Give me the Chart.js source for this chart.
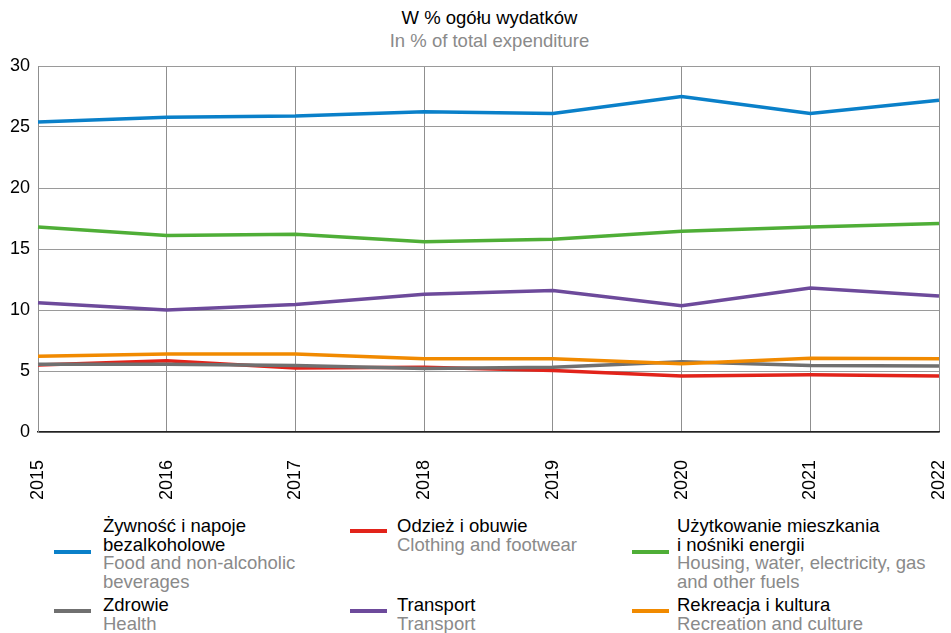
<!DOCTYPE html>
<html lang="pl">
<head>
    <meta charset="UTF-8">
    <title>W % ogółu wydatków</title>
    <style>
        body {
            margin: 0;
            font-family: "Liberation Sans", Arial, sans-serif;
            background: #fff;
        }
        .wrap {
            position: relative;
            width: 951px;
            height: 633px;
        }
        .title {
            position: absolute;
            left: 0;
            width: 979px;
            text-align: center;
            font-size: 18.5px;
        }
        #chartBox {
            position: absolute;
            left: 0;
            top: 0;
            width: 951px;
            height: 500px;
        }
        .sw {
            position: absolute;
            width: 37px;
            height: 4px;
        }
        .lt {
            position: absolute;
            font-size: 18.5px;
            line-height: 18.5px;
        }
        .lt .en {
            color: #8a8a8a;
        }
    </style>
</head>
<body>
<div class="wrap">
    <div class="title" style="top:7px;color:#000">W % ogółu wydatków</div>
    <div class="title" style="top:30px;color:#8a8a8a">In % of total expenditure</div>
    <div id="chartBox"><canvas id="chart"></canvas></div>
    <div id="legend"></div>
</div>

<script src="https://cdn.jsdelivr.net/npm/chart.js"></script>
<script>
    const years = ['2015', '2016', '2017', '2018', '2019', '2020', '2021', '2022'];

    const food      = [25.4, 25.8, 25.9, 26.25, 26.1, 27.5, 26.1, 27.2];
    const clothing  = [5.5, 5.85, 5.25, 5.3, 5.05, 4.6, 4.7, 4.6];
    const housing   = [16.8, 16.1, 16.2, 15.6, 15.8, 16.45, 16.8, 17.1];
    const health    = [5.55, 5.55, 5.45, 5.2, 5.3, 5.75, 5.45, 5.4];
    const transport = [10.6, 10.0, 10.45, 11.3, 11.6, 10.35, 11.8, 11.15];
    const culture   = [6.2, 6.4, 6.4, 6.0, 6.0, 5.6, 6.05, 6.0];

    const namesPl = ['Żywność i napoje\nbezalkoholowe', 'Odzież i obuwie', 'Użytkowanie mieszkania\ni nośniki energii',
                     'Zdrowie', 'Transport', 'Rekreacja i kultura'];
    const namesEn = ['Food and non-alcoholic\nbeverages', 'Clothing and footwear', 'Housing, water, electricity, gas\nand other fuels',
                     'Health', 'Transport', 'Recreation and culture'];

    const colors = ['#0a80c9', '#e2231a', '#4fae37', '#707070', '#6d4a9b', '#f18a00'];
    const drawOrder = [5, 4, 3, 2, 1, 0]; // lower = on top

    const series = [food, clothing, housing, health, transport, culture];

    // legend placement: [swatch x, swatch y, text x, text y]
    const legendPos = [
        [54, 552, 103, 517],
        [350, 531, 397, 517],
        [632, 552, 677, 517],
        [54, 611, 103, 596],
        [350, 611, 397, 596],
        [632, 611, 677, 596]
    ];

    const legend = document.getElementById('legend');
    namesPl.forEach((pl, i) => {
        const p = legendPos[i];
        const sw = document.createElement('div');
        sw.className = 'sw';
        sw.style.left = p[0] + 'px';
        sw.style.top = (p[1] - 2) + 'px';
        sw.style.background = colors[i];
        legend.appendChild(sw);

        const t = document.createElement('div');
        t.className = 'lt';
        t.style.left = p[2] + 'px';
        t.style.top = p[3] + 'px';
        t.innerHTML = pl.replace('\n', '<br>') + '<br><span class="en">' + namesEn[i].replace('\n', '<br>') + '</span>';
        legend.appendChild(t);
    });

    const ctx = document.getElementById('chart').getContext('2d');
    new Chart(ctx, {
        type: 'line',
        data: {
            labels: years,
            datasets: series.map((d, i) => ({
                label: namesPl[i].replace('\n', ' '),
                data: d,
                borderColor: colors[i],
                backgroundColor: colors[i],
                borderWidth: 3.5,
                pointRadius: 0,
                tension: 0,
                order: drawOrder[i]
            }))
        },
        options: {
            responsive: true,
            maintainAspectRatio: false,
            animation: false,
            layout: {
                padding: { top: 66, right: 12, left: 0, bottom: 0 }
            },
            plugins: {
                legend: { display: false },
                tooltip: { enabled: false }
            },
            scales: {
                x: {
                    offset: false,
                    grid: {
                        color: '#8f8f8f',
                        lineWidth: 1,
                        drawTicks: false,
                        tickLength: 0
                    },
                    border: { color: '#222', width: 1.5 },
                    ticks: {
                        minRotation: 90,
                        maxRotation: 90,
                        padding: 28,
                        color: '#000',
                        font: { family: 'Liberation Sans', size: 18 }
                    },
                    afterFit: (scale) => {
                        scale.height = 68;
                        scale.paddingLeft = 0;
                        scale.paddingRight = 0;
                    }
                },
                y: {
                    min: 0,
                    max: 30,
                    grid: {
                        color: '#9a9a9a',
                        lineWidth: 1,
                        drawTicks: false,
                        tickLength: 0
                    },
                    border: { color: '#8f8f8f', width: 1 },
                    ticks: {
                        stepSize: 5,
                        padding: 8,
                        color: '#000',
                        font: { family: 'Liberation Sans', size: 18 }
                    },
                    afterFit: (scale) => {
                        scale.width = 38;
                        scale.paddingTop = 0;
                        scale.paddingBottom = 0;
                    }
                }
            }
        }
    });
</script>
</body>
</html>
